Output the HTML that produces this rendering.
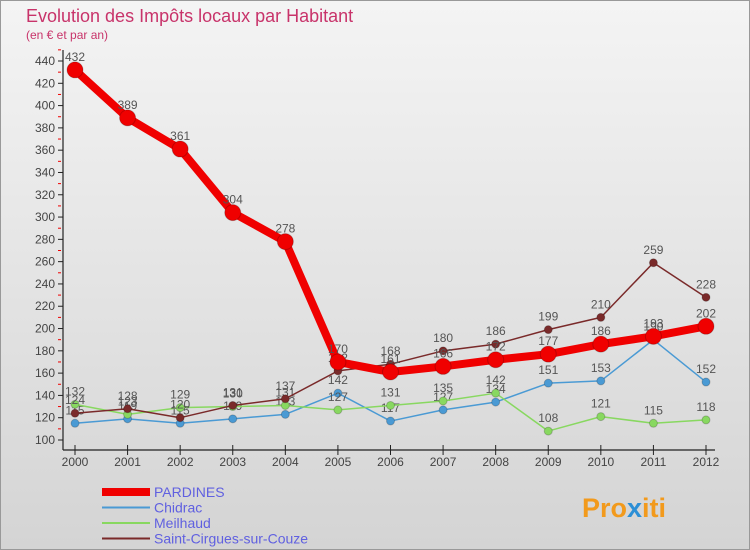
<!DOCTYPE html>
<html><head><meta charset="utf-8"><style>
body{margin:0;width:750px;height:550px;overflow:hidden;font-family:"Liberation Sans",sans-serif}
#c{position:absolute;left:0;top:0}
</style></head><body>
<svg id="c" width="750" height="550" xmlns="http://www.w3.org/2000/svg">
<defs><linearGradient id="bg" x1="0" y1="0" x2="0" y2="1"><stop offset="0" stop-color="#f4f4f4"/><stop offset="1" stop-color="#d4d4d4"/></linearGradient></defs>
<rect x="0.5" y="0.5" width="749" height="549" fill="url(#bg)" stroke="#999"/>
<text x="26" y="22" font-size="18" fill="#c8336a">Evolution des Impôts locaux par Habitant</text>
<text x="26" y="39" font-size="12" fill="#c8336a">(en € et par an)</text>
<g id="axes"></g><g id="series"></g><g id="legend"></g>
<text x="582" y="517" font-size="27" font-weight="bold" fill="#f29a1c">Pro<tspan fill="#2c8fd6">x</tspan>iti</text>
</svg>
<script>
const years=[2000,2001,2002,2003,2004,2005,2006,2007,2008,2009,2010,2011,2012];
const yTicks=[100,120,140,160,180,200,220,240,260,280,300,320,340,360,380,400,420,440];
const pardines=[432,389,361,304,278,170,161,166,172,177,186,193,202];
const chidrac=[115,119,115,119,123,142,117,127,134,151,153,190,152];
const meilhaud=[132,123,129,130,131,127,131,135,142,108,121,115,118];
const stCirgues=[124,128,120,131,137,162,168,180,186,199,210,259,228];
const NS="http://www.w3.org/2000/svg";
function X(i){return 75+i*(706-75)/(years.length-1);}
function Y(v){return 440-(v-100)*(379/340);}
function mk(tag,attrs,parent,txt){const e=document.createElementNS(NS,tag);for(const k in attrs)e.setAttribute(k,attrs[k]);if(txt!==undefined)e.textContent=txt;parent.appendChild(e);return e;}
const ax=document.getElementById('axes');
let a=mk('line',{x1:63,y1:50,x2:63,y2:450,stroke:'#222','stroke-width':1.2},ax);


a=mk('line',{x1:63,y1:450,x2:715,y2:450,stroke:'#222','stroke-width':1.2},ax);


yTicks.forEach(v=>{
 mk('line',{x1:58,y1:Y(v),x2:63,y2:Y(v),stroke:'#222'},ax);
 mk('line',{x1:58,y1:Y(v+10),x2:61,y2:Y(v+10),stroke:'#e00'},ax);
 const t=mk('text',{x:55,y:Y(v)+4,'font-size':12,'text-anchor':'end',fill:'#444'},ax,v);
 
 
});
years.forEach((yr,i)=>{
 mk('line',{x1:X(i),y1:445,x2:X(i),y2:455,stroke:'#222'},ax);
 const t=mk('text',{x:X(i),y:466,'font-size':12,'text-anchor':'middle',fill:'#444'},ax,yr);
 
 
});
const sg=document.getElementById('series');
const defs=[
 {name:'Chidrac',data:chidrac,color:'#4a9ad4',w:1.5,r:4},
 {name:'Meilhaud',data:meilhaud,color:'#88d860',w:1.5,r:4},
 {name:'Saint-Cirgues-sur-Couze',data:stCirgues,color:'#7a2a2a',w:1.5,r:4},
 {name:'PARDINES',data:pardines,color:'#f00000',w:8,r:8}
];
defs.forEach(s=>{
 const g=mk('g',{},sg);
 
 
 const pl=mk('polyline',{points:s.data.map((v,i)=>X(i)+','+Y(v)).join(' '),fill:'none',stroke:s.color,'stroke-width':s.w,'stroke-linejoin':'round'},g);
 
 
 s.data.forEach((v,i)=>{
  const c=mk('circle',{cx:X(i),cy:Y(v),r:s.r,fill:s.color,stroke:'rgba(0,0,0,0.2)'},g);
  
  
  const t=mk('text',{x:X(i),y:Y(v)-9,'font-size':12,'text-anchor':'middle',fill:'#555'},g,v);
  
  
 });
});
const lg=document.getElementById('legend');
[defs[3],defs[0],defs[1],defs[2]].forEach((s,k)=>{
 const y=492+k*15.5;
 const g=mk('g',{},lg);
 
 
 mk('line',{x1:102,y1:y,x2:150,y2:y,stroke:s.color,'stroke-width':k==0?8:2},g);
 mk('text',{x:154,y:y+5,'font-size':14,fill:'#6060e0'},g,s.name);
});
</script>
</body></html>
